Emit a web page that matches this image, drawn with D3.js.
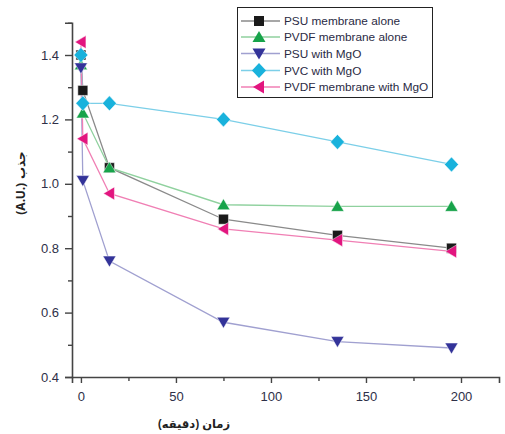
<!DOCTYPE html>
<html><head><meta charset="utf-8">
<script src="https://cdn.jsdelivr.net/npm/d3@7"></script>
<style>body{margin:0;background:#fff}svg{display:block}</style>
</head><body>
<svg id="c" width="505" height="434"></svg>
<script>
const times = [0, 1, 15, 75, 135, 195];
const psuAlone = [1.40, 1.29, 1.05, 0.89, 0.84, 0.80];
const pvdfAlone = [1.37, 1.22, 1.05, 0.935, 0.93, 0.93];
const psuMgO = [1.36, 1.01, 0.76, 0.57, 0.51, 0.49];
const pvcMgO = [1.40, 1.25, 1.25, 1.20, 1.13, 1.06];
const pvdfMgO = [1.44, 1.14, 0.97, 0.86, 0.825, 0.79];
const seriesNames = ["PSU membrane alone","PVDF membrane alone","PSU with MgO","PVC with MgO","PVDF membrane with MgO"];
const xTicks = [0, 50, 100, 150, 200];
const yTicks = [0.4, 0.6, 0.8, 1.0, 1.2, 1.4];
const xLabel = "زمان (دقیقه)";
const yLabelAr = "جذب";
const yLabelUnit = "(A.U.)";

const series = [
  {name: seriesNames[0], vals: psuAlone, line: "#8a8a8a", fill: "#1a1a1a", sym: "square"},
  {name: seriesNames[1], vals: pvdfAlone, line: "#8fd19e", fill: "#17a34a", sym: "up"},
  {name: seriesNames[2], vals: psuMgO, line: "#a0a0d0", fill: "#333399", sym: "down"},
  {name: seriesNames[3], vals: pvcMgO, line: "#7ccfe8", fill: "#19b2dc", sym: "diamond"},
  {name: seriesNames[4], vals: pvdfMgO, line: "#f07fb4", fill: "#e2157f", sym: "left"}
];

const svg = d3.select("#c");
const x = d3.scaleLinear().domain([-4.7, 220]).range([72, 499]);
const y = d3.scaleLinear().domain([0.4, 1.5]).range([377, 22.8]);

const axisColor = "#444";
const xa = svg.append("g").attr("transform","translate(0,377)")
  .call(d3.axisBottom(x).tickValues(d3.range(0,201,25)).tickSize(6).tickFormat(d=> xTicks.includes(d)? d:""));
const ya = svg.append("g").attr("transform","translate(72,0)")
  .call(d3.axisLeft(y).tickValues(d3.range(0,12).map(i=>+(0.4+i*0.1).toFixed(1))).tickSize(7).tickFormat(d=> yTicks.some(t=>Math.abs(t-d)<1e-9)? d3.format(".1f")(d):""));
[xa, ya].forEach(g=>{
  g.select(".domain").attr("stroke", axisColor).attr("stroke-width",1.6);
  g.selectAll(".tick line").attr("stroke", axisColor).attr("stroke-width",1.4);
  g.selectAll(".tick text").attr("fill","#2e3048").attr("font-family","Liberation Sans, Arial, sans-serif").attr("font-size",13);
});
xa.selectAll(".tick line").filter(d=>!xTicks.includes(d)).attr("y2",4);
ya.selectAll(".tick line").filter(d=>!yTicks.some(t=>Math.abs(t-d)<1e-9)).attr("x2",-4);
xa.selectAll(".tick text").attr("dy","1.15em");
ya.selectAll(".tick text").attr("dx","-3");

function symPath(sym, s) {
  switch(sym){
    case "square": return d3.symbol(d3.symbolSquare, s*s)();
    case "diamond": return `M0,${-s*0.75}L${s*0.7},0L0,${s*0.75}L${-s*0.7},0Z`;
    case "up": return `M0,${-s*0.6}L${s*0.65},${s*0.5}L${-s*0.65},${s*0.5}Z`;
    case "down": return `M0,${s*0.6}L${s*0.65},${-s*0.5}L${-s*0.65},${-s*0.5}Z`;
    case "left": return `M${-s*0.6},0L${s*0.5},${-s*0.65}L${s*0.5},${s*0.65}Z`;
  }
}

const line = d3.line().x((d,i)=>x(times[i])).y(d=>y(d));
series.forEach(s=>{
  svg.append("path").attr("d", line(s.vals)).attr("fill","none").attr("stroke", s.line).attr("stroke-width",1.3);
});
series.forEach(s=>{
  svg.append("g").selectAll("path").data(s.vals).join("path")
    .attr("transform",(d,i)=>`translate(${x(times[i])},${y(d)})`)
    .attr("d", symPath(s.sym, 10)).attr("fill", s.fill)
    .attr("stroke","#fff").attr("stroke-width",0.5);
});

// legend
const lg = svg.append("g");
lg.append("rect").attr("x",237.5).attr("y",7.5).attr("width",195).attr("height",90)
  .attr("fill","#fff").attr("stroke","#222").attr("stroke-width",1);
const rowY = [21, 37, 53.5, 70.5, 87];
series.forEach((s,i)=>{
  const ry = rowY[i];
  lg.append("line").attr("x1",241).attr("x2",280).attr("y1",ry).attr("y2",ry).attr("stroke",s.line).attr("stroke-width",1.3);
  lg.append("path").attr("transform",`translate(259,${ry})`).attr("d",symPath(s.sym,10)).attr("fill",s.fill);
  lg.append("text").attr("x",284).attr("y",ry+4).text(s.name)
    .attr("font-family","Liberation Sans, Arial, sans-serif").attr("font-size",11.8).attr("fill","#2a2a44");
});

// axis titles
const yt = svg.append("text").attr("transform","translate(25,183) rotate(-90)").attr("text-anchor","middle")
  .attr("font-family","Noto Sans, DejaVu Sans, sans-serif").attr("font-size",12).attr("font-weight","bold").attr("fill","#222")
  .attr("direction","ltr");
yt.append("tspan").text(yLabelUnit);
yt.append("tspan").attr("dx",4).text(yLabelAr);
svg.append("text").attr("x",194).attr("y",428).attr("text-anchor","middle")
  .attr("font-family","Noto Sans, DejaVu Sans, sans-serif").attr("font-size",11.5).attr("font-weight","bold").attr("fill","#222")
  .attr("direction","rtl").text(xLabel);
</script>
</body></html>
